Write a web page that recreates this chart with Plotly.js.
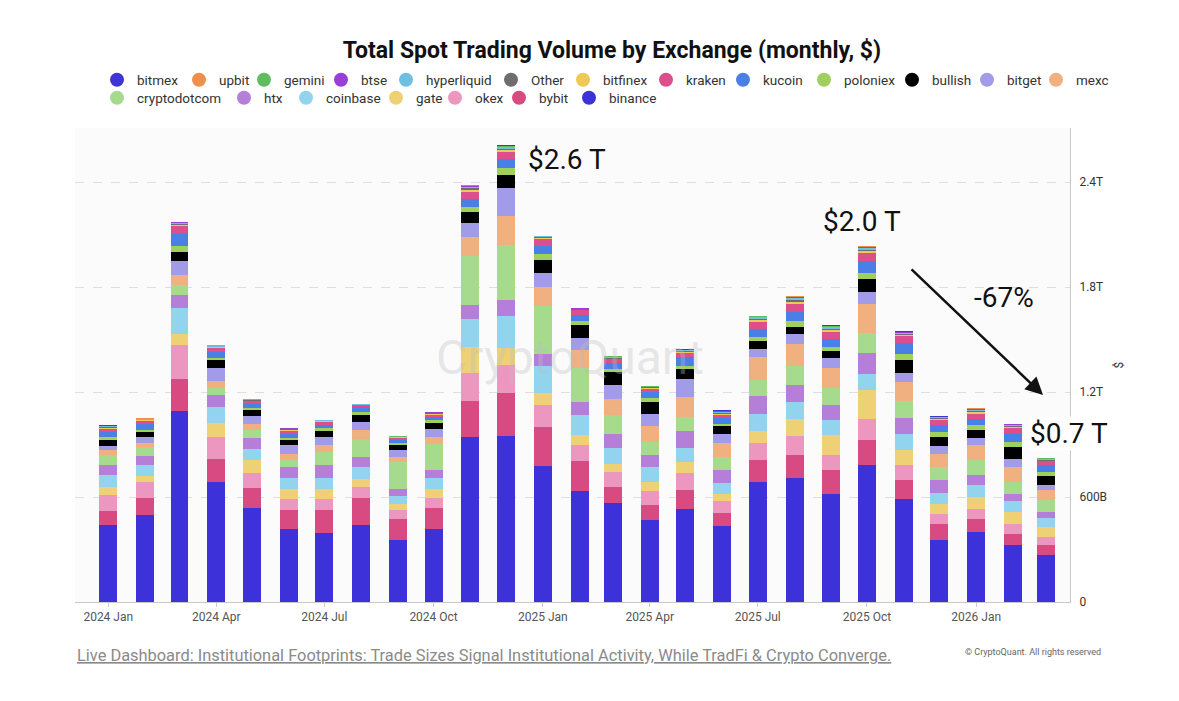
<!DOCTYPE html>
<html>
<head>
<meta charset="utf-8">
<script src="https://cdn.plot.ly/plotly-3.0.1.min.js"></script>
<style>
  html, body { margin: 0; padding: 0; background: #ffffff; }
  #chart { width: 1179px; height: 701px; }
</style>
</head>
<body>
<div id="chart"></div>
<script>
// ---------- DATA (values in billions of USD) ----------
const months = [
  "2024-01-01","2024-02-01","2024-03-01","2024-04-01","2024-05-01","2024-06-01",
  "2024-07-01","2024-08-01","2024-09-01","2024-10-01","2024-11-01","2024-12-01",
  "2025-01-01","2025-02-01","2025-03-01","2025-04-01","2025-05-01","2025-06-01",
  "2025-07-01","2025-08-01","2025-09-01","2025-10-01","2025-11-01","2025-12-01",
  "2026-01-01","2026-02-01","2026-03-01"
];

const binance      = [438,499,1090,686,537,419,396,438,352,419,943,947,775,632,568,467,530,432,686,710,619,785,587,356,400,324,267];
const bybit        = [82,95,186,133,114,109,132,156,124,118,204,249,225,172,89,85,108,78,124,128,133,143,108,92,76,66,57];
const okex         = [93,92,191,124,86,62,62,63,48,57,162,160,124,91,86,80,99,65,100,109,86,120,86,57,57,58,47];
const gate         = [44,34,66,82,73,58,58,48,38,54,148,95,70,57,47,54,63,44,67,101,118,162,86,57,67,66,58];
const coinbase     = [67,65,147,89,66,61,61,66,42,61,162,187,153,118,90,85,80,61,99,95,82,95,95,63,67,61,51];
const htx          = [57,49,78,67,61,62,72,58,44,47,80,86,72,73,82,67,97,72,99,95,90,118,89,70,61,44,34];
const cryptodotcom = [61,52,57,42,44,39,76,104,152,145,282,318,272,194,105,76,80,77,92,114,95,114,101,76,82,67,67];
const mexc         = [28,24,52,38,38,38,42,48,29,42,105,164,109,101,95,92,114,81,133,124,114,168,105,77,85,85,57];
const bitget       = [21,33,85,78,44,47,44,48,38,47,82,160,80,71,76,70,105,52,48,57,57,66,53,43,42,48,32];
const bullish      = [37,28,48,42,32,29,36,41,32,35,62,76,78,72,76,67,57,44,43,42,40,73,71,52,44,67,50];
const poloniex     = [13,10,38,15,14,13,15,16,11,13,27,38,32,23,19,23,19,13,23,29,23,36,38,28,29,28,23];
const kucoin       = [30,38,67,36,24,25,19,28,18,19,48,53,48,38,35,34,48,32,48,53,48,72,63,42,38,48,38];
const kraken       = [19,15,44,19,14,17,16,10,11,13,38,38,38,25,19,19,23,19,38,48,38,44,36,25,28,32,23];
const bitfinex     = [6,5,8,5,3,4,4,3,2,5,12,11,5,4,5,4,6,7,10,12,10,10,8,6,9,7,5];
const other        = [5,4,6,4,3,4,3,2,2,4,10,9,5,4,5,4,5,6,9,10,9,9,7,6,8,6,5];
const hyperliquid  = [3,3,5,3,2,3,2,2,2,3,9,8,4,3,4,3,4,5,8,9,8,8,6,5,7,5,4];
const btse         = [2,2,3,2,1,2,2,1,1,2,5,4,2,2,2,2,3,3,5,6,5,5,4,3,4,3,2];
const gemini       = [2,1,2,1,1,1,1,1,1,1,4,3,1,1,1,1,1,2,3,4,3,3,2,1,2,2,1];
const upbit        = [1,1,1,1,1,1,1,0,0,1,3,3,1,1,1,1,1,1,2,2,2,2,1,1,2,1,1];
const bitmex       = [1,1,1,0,0,0,0,0,0,0,1,1,1,0,1,0,1,1,1,1,1,1,1,1,1,1,1];

const yTickVals = [0, 600, 1200, 1800, 2400];
const yTickText = ["0", "600B", "1.2T", "1.8T", "2.4T"];

// stacking order (bottom -> top)
const stackNames = ["binance","bybit","okex","gate","coinbase","htx","cryptodotcom","mexc","bitget","bullish",
                    "poloniex","kucoin","kraken","bitfinex","Other","hyperliquid","btse","gemini","upbit","bitmex"];
const stackData = [binance,bybit,okex,gate,coinbase,htx,cryptodotcom,mexc,bitget,bullish,
                   poloniex,kucoin,kraken,bitfinex,other,hyperliquid,btse,gemini,upbit,bitmex];

// legend entries as displayed (two rows)
const legendRow1 = ["bitmex","upbit","gemini","btse","hyperliquid","Other","bitfinex","kraken","kucoin","poloniex","bullish","bitget","mexc"];
const legendRow2 = ["cryptodotcom","htx","coinbase","gate","okex","bybit","binance"];

// ---------- STYLE / LAYOUT ----------
const colors = {
  binance:"#3d31d9", bybit:"#d84a82", okex:"#ec97c0", gate:"#edd174", coinbase:"#92d4ee",
  htx:"#b57ed9", cryptodotcom:"#a6da8d", mexc:"#f1b07f", bitget:"#a19be8", bullish:"#000000",
  poloniex:"#9fcf5c", kucoin:"#4a7fe6", kraken:"#dc4f8a", bitfinex:"#efc957", Other:"#6d6d72",
  hyperliquid:"#6fbfe3", btse:"#9a3ed8", gemini:"#5fbd60", upbit:"#ec904c", bitmex:"#3f35d4"
};
// legend symbol pixel x-positions for each row
const legendPx1 = [123,205,270,347,412,517,589,672,749,830,918,993,1062];
const legendPx2 = [123,250,312,402,461,525,595];
const W = 1179, H = 701;
const FONT = "Roboto, 'Open Sans', sans-serif";

const traces = [];
stackNames.forEach((name, i) => {
  traces.push({
    type: "bar", name: name, x: months, y: stackData[i],
    marker: { color: colors[name], line: { width: 0 } },
    showlegend: false,
    hovertemplate: name + ": %{y}B<extra></extra>"
  });
});

const layout = {
  width: W, height: H,
  margin: { l: 75, r: 109, t: 128, b: 99 },
  paper_bgcolor: "#ffffff",
  plot_bgcolor: "#fbfbfb",
  font: { family: FONT, color: "#333333" },
  barmode: "stack",
  bargap: 0.46,
  showlegend: true,
  title: {
    text: "<b>Total Spot Trading Volume by Exchange (monthly, $)</b>",
    font: { family: FONT, size: 23, color: "#111111" },
    x: 0.519, xanchor: "center", y: 0.929, yanchor: "middle", xref: "container", yref: "container"
  },
  xaxis: {
    type: "date",
    range: ["2023-12-04", "2026-03-21"],
    dtick: "M3", tick0: "2024-01-01",
    tickformat: "%Y %b",
    tickfont: { size: 12, color: "#555555" },
    ticks: "outside", ticklen: 4, tickcolor: "#cccccc",
    showgrid: false, zeroline: false,
    showline: true, linecolor: "#c8c8c8", linewidth: 1,
    fixedrange: true
  },
  yaxis: {
    side: "right",
    range: [0, 2710],
    tickvals: yTickVals, ticktext: yTickText,
    tickfont: { size: 12, color: "#333333" },
    showgrid: true, gridcolor: "#dedede", griddash: "dash", gridwidth: 1,
    zeroline: false,
    showline: true, linecolor: "#c8c8c8", linewidth: 1,
    ticks: "", ticklabelstandoff: 6,
    title: { text: "$", font: { size: 12, color: "#333333" }, standoff: 8 },
    fixedrange: true
  },
  annotations: [
    { text: "CryptoQuant", xref: "paper", yref: "paper", x: 0.4975, y: 0.515, xanchor: "center", yanchor: "middle",
      showarrow: false, font: { family: FONT, size: 48, color: "rgba(190,190,195,0.35)" } },
    { text: "$2.6 T", xref: "paper", yref: "paper", x: 0.4945, y: 0.9325, xanchor: "center", yanchor: "middle",
      showarrow: false, font: { family: FONT, size: 28, color: "#111111" } },
    { text: "$2.0 T", xref: "paper", yref: "paper", x: 0.791, y: 0.8017, xanchor: "center", yanchor: "middle",
      showarrow: false, font: { family: FONT, size: 28, color: "#111111" } },
    { text: "-67%", xref: "paper", yref: "paper", x: 0.9337, y: 0.6414, xanchor: "center", yanchor: "middle",
      showarrow: false, font: { family: FONT, size: 28, color: "#111111" } },
    { text: "$0.7 T", xref: "paper", yref: "paper", x: 0.999, y: 0.3565, xanchor: "center", yanchor: "middle",
      showarrow: false, bgcolor: "#ffffff", borderpad: 0, font: { family: FONT, size: 28, color: "#111111" } },
    { text: "", xref: "paper", yref: "paper", x: 0.9729, y: 0.4367, showarrow: true,
      ax: -133, ay: -127, arrowhead: 2, arrowsize: 1.4, arrowwidth: 2.5, arrowcolor: "#111111" },
    { text: "<span style='text-decoration:underline'>Live Dashboard: Institutional Footprints: Trade Sizes Signal Institutional Activity, While TradFi &amp; Crypto Converge.</span>",
      xref: "paper", yref: "paper", x: 0, y: -0.1139, xanchor: "left", yanchor: "middle", showarrow: false,
      font: { family: FONT, size: 16.4, color: "#8a8a8a" } },
    { text: "© CryptoQuant. All rights reserved", xref: "paper", yref: "paper", x: 1.033, y: -0.105,
      xanchor: "right", yanchor: "middle", showarrow: false,
      font: { family: FONT, size: 9, color: "#666666" } }
  ]
};

// one legend per entry so the entries sit exactly as in the reference
let legendIndex = 0;
function addLegendEntry(name, px, py) {
  legendIndex += 1;
  const key = legendIndex === 1 ? "legend" : "legend" + legendIndex;
  traces.push({ type:"scatter", mode:"markers", x:[null], y:[null], name:name, legend:key,
    marker:{ symbol:"circle", size:14, color:colors[name] }, hoverinfo:"skip" });
  layout[key] = {
    orientation: "h", xref: "container", yref: "container",
    x: (px - 26) / W, xanchor: "left", y: 1 - py / H, yanchor: "middle",
    font: { family: FONT, size: 13.5, color: "#333333" },
    bgcolor: "rgba(0,0,0,0)", borderwidth: 0, itemclick: false, itemdoubleclick: false
  };
}
legendRow1.forEach((n, i) => addLegendEntry(n, legendPx1[i], 80));
legendRow2.forEach((n, i) => addLegendEntry(n, legendPx2[i], 98));

Plotly.newPlot("chart", traces, layout, { displayModeBar: false, staticPlot: true });
</script>
</body>
</html>
